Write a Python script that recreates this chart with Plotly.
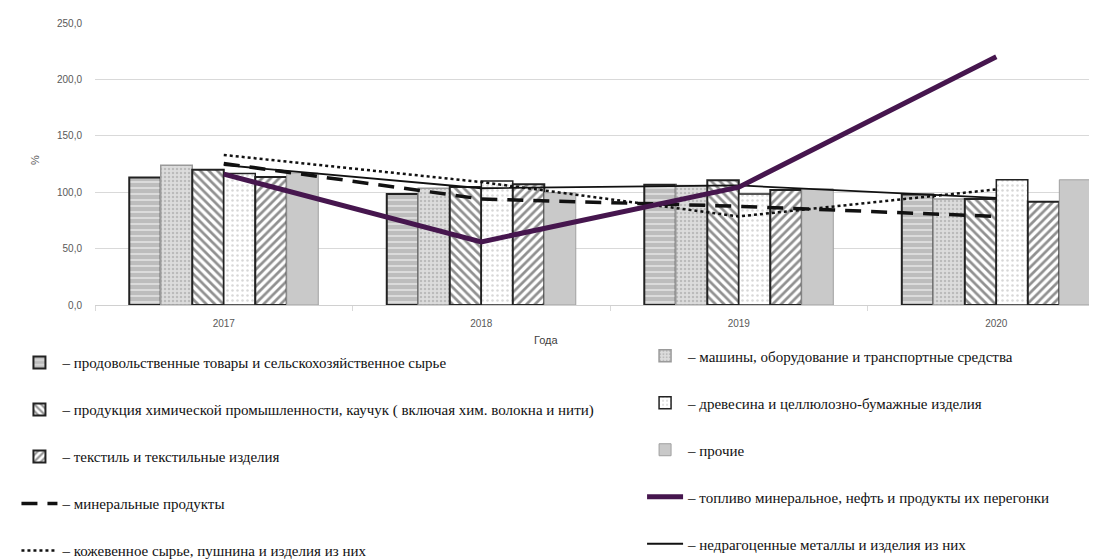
import plotly.graph_objects as go

years = ["2017", "2018", "2019", "2020"]

food = [113.0, 98.5, 106.5, 98.0]
machines = [124.0, 103.5, 106.0, 94.0]
chemical = [120.0, 104.5, 110.5, 94.0]
wood = [116.5, 110.0, 98.5, 111.0]
textile = [113.5, 107.0, 102.0, 91.5]
other = [117.0, 99.5, 103.0, 111.0]

mineral = [125.5, 94.0, 87.5, 78.5]
fuel = [116.0, 56.0, 104.5, 220.0]
leather = [133.0, 109.0, 78.5, 102.5]
metals = [124.0, 103.5, 106.0, 95.0]

names = {
    "food": "– продовольственные товары и сельскохозяйственное сырье",
    "machines": "– машины, оборудование и транспортные средства",
    "chemical": "– продукция химической промышленности, каучук ( включая хим. волокна и нити)",
    "wood": "– древесина и целлюлозно-бумажные изделия",
    "textile": "– текстиль и текстильные изделия",
    "other": "– прочие",
    "mineral": "– минеральные продукты",
    "fuel": "– топливо минеральное, нефть и продукты их перегонки",
    "leather": "– кожевенное сырье, пушнина и изделия из них",
    "metals": "– недрагоценные металлы и изделия из них",
}

fig = go.Figure()

bar_specs = [
    ("food", food, dict(color="#bdbdbd", line=dict(color="#222", width=2),
                        pattern=dict(shape="-", fgcolor="white", size=6, solidity=0.3, fillmode="overlay")), "legend", 1),
    ("machines", machines, dict(color="#dcdcdc", line=dict(color="#9a9a9a", width=1.5),
                                pattern=dict(shape=".", fgcolor="#9a9a9a", size=4, solidity=0.3, fillmode="overlay")), "legend2", 1),
    ("chemical", chemical, dict(color="white", line=dict(color="#222", width=2),
                                pattern=dict(shape="\\", fgcolor="#222", size=6, solidity=0.45, fillmode="overlay")), "legend", 2),
    ("wood", wood, dict(color="white", line=dict(color="#222", width=1.5),
                        pattern=dict(shape=".", fgcolor="#b0b0b0", size=5, solidity=0.2, fillmode="overlay")), "legend2", 2),
    ("textile", textile, dict(color="white", line=dict(color="#222", width=2),
                              pattern=dict(shape="/", fgcolor="#222", size=6, solidity=0.45, fillmode="overlay")), "legend", 3),
    ("other", other, dict(color="#c9c9c9", line=dict(color="#a0a0a0", width=1)), "legend2", 3),
]

for key, vals, marker, leg, rank in bar_specs:
    fig.add_trace(go.Bar(x=years, y=vals, name=names[key], marker=marker,
                         legend=leg, legendrank=rank, legendgroup=key))

line_specs = [
    ("mineral", mineral, dict(color="#111", width=3.5, dash="16px,10px"), "legend", 4),
    ("leather", leather, dict(color="#111", width=2.5, dash="dot"), "legend", 5),
    ("metals", metals, dict(color="#111", width=1.8), "legend2", 5),
    ("fuel", fuel, dict(color="#46164e", width=5), "legend2", 4),
]
for key, vals, line, leg, rank in line_specs:
    fig.add_trace(go.Scatter(x=years, y=vals, name=names[key], mode="lines", line=line,
                             legend=leg, legendrank=rank, legendgroup=key))

legend_font = dict(family="Liberation Serif", size=15, color="#111")
fig.update_layout(
    width=1097, height=559,
    margin=dict(l=87, r=8, t=15, b=262, autoexpand=False),
    plot_bgcolor="white", paper_bgcolor="white",
    barmode="group", bargap=0.266, bargroupgap=0,
    separators=", ",
    showlegend=True,
    legend=dict(xref="container", yref="container", x=0.0077, y=0.395,
                xanchor="left", yanchor="top", orientation="v",
                font=legend_font, tracegroupgap=24.5, itemwidth=36, bgcolor="rgba(0,0,0,0)"),
    legend2=dict(xref="container", yref="container", x=0.578, y=0.407,
                 xanchor="left", yanchor="top", orientation="v",
                 font=legend_font, tracegroupgap=24.5, itemwidth=36, bgcolor="rgba(0,0,0,0)"),
    xaxis=dict(type="category", range=[-0.5, 3.391], showgrid=False,
               showline=True, linecolor="#d0d0d0", linewidth=1,
               ticks="outside", tickson="boundaries", ticklen=5, tickcolor="#d9d9d9",
               ticklabelstandoff=9,
               tickfont=dict(family="Liberation Sans", size=10, color="#595959")),
    yaxis=dict(range=[0, 250], dtick=50, tickformat=".1f", showgrid=True,
               gridcolor="#d9d9d9", gridwidth=1, zeroline=False, showline=False,
               ticklabelstandoff=12,
               tickfont=dict(family="Liberation Sans", size=10, color="#595959")),
    annotations=[
        dict(text="Года", x=0.451, y=-0.124, xref="paper", yref="paper", showarrow=False,
             xanchor="center", yanchor="middle",
             font=dict(family="Liberation Sans", size=11, color="#404040")),
        dict(text="%", x=-0.06, y=0.514, xref="paper", yref="paper", showarrow=False,
             xanchor="center", yanchor="middle",
             textangle=-90, font=dict(family="Liberation Sans", size=11, color="#595959")),
    ],
)

fig.write_html("out.html")
